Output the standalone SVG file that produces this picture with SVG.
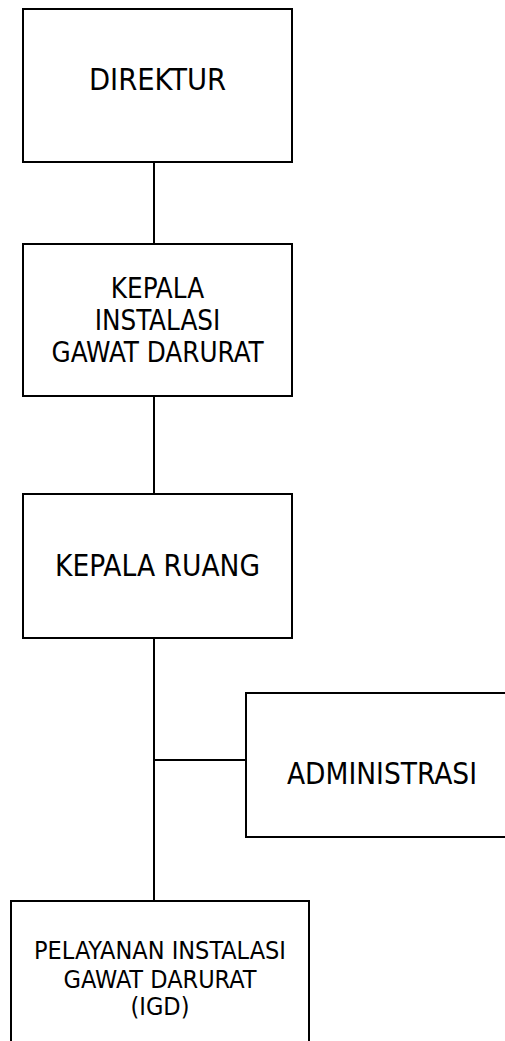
<svg xmlns="http://www.w3.org/2000/svg" width="505" height="1041" viewBox="0 0 505 1041">
<style>
.box{fill:#fff;stroke:#000;stroke-width:2}
.conn line{stroke:#000;stroke-width:2}
text{font-family:"DejaVu Sans Condensed","DejaVu Sans",sans-serif;font-stretch:condensed;fill:#000;text-anchor:middle}
</style>
<rect width="505" height="1041" fill="#fff"/>
<g class="conn" id="connectors">
<line x1="154" y1="162" x2="154" y2="244"/>
<line x1="154" y1="396" x2="154" y2="494"/>
<line x1="154" y1="638" x2="154" y2="901"/>
<line x1="154" y1="760" x2="246" y2="760"/>
</g>
<g id="direktur">
<rect class="box" x="23" y="9" width="269" height="153"/>
<text x="157.5" y="90" font-size="30.5">DIREKTUR</text>
</g>
<g id="kepala-instalasi">
<rect class="box" x="23" y="244" width="269" height="152"/>
<text font-size="27.5" x="157.5"><tspan x="157.5" y="298.3">KEPALA</tspan><tspan x="157.5" y="330">INSTALASI</tspan><tspan x="157.5" y="361.7">GAWAT DARURAT</tspan></text>
</g>
<g id="kepala-ruang">
<rect class="box" x="23" y="494" width="269" height="144"/>
<text x="157.5" y="575.7" font-size="29.5">KEPALA RUANG</text>
</g>
<g id="administrasi">
<rect class="box" x="246" y="693" width="272" height="144"/>
<text x="382" y="784.3" font-size="29.5">ADMINISTRASI</text>
</g>
<g id="pelayanan">
<rect class="box" x="11" y="901" width="298" height="160"/>
<text font-size="25" x="160"><tspan x="160" y="959.3">PELAYANAN INSTALASI</tspan><tspan x="160" y="987.7">GAWAT DARURAT</tspan><tspan x="160" y="1015">(IGD)</tspan></text>
</g>
</svg>
